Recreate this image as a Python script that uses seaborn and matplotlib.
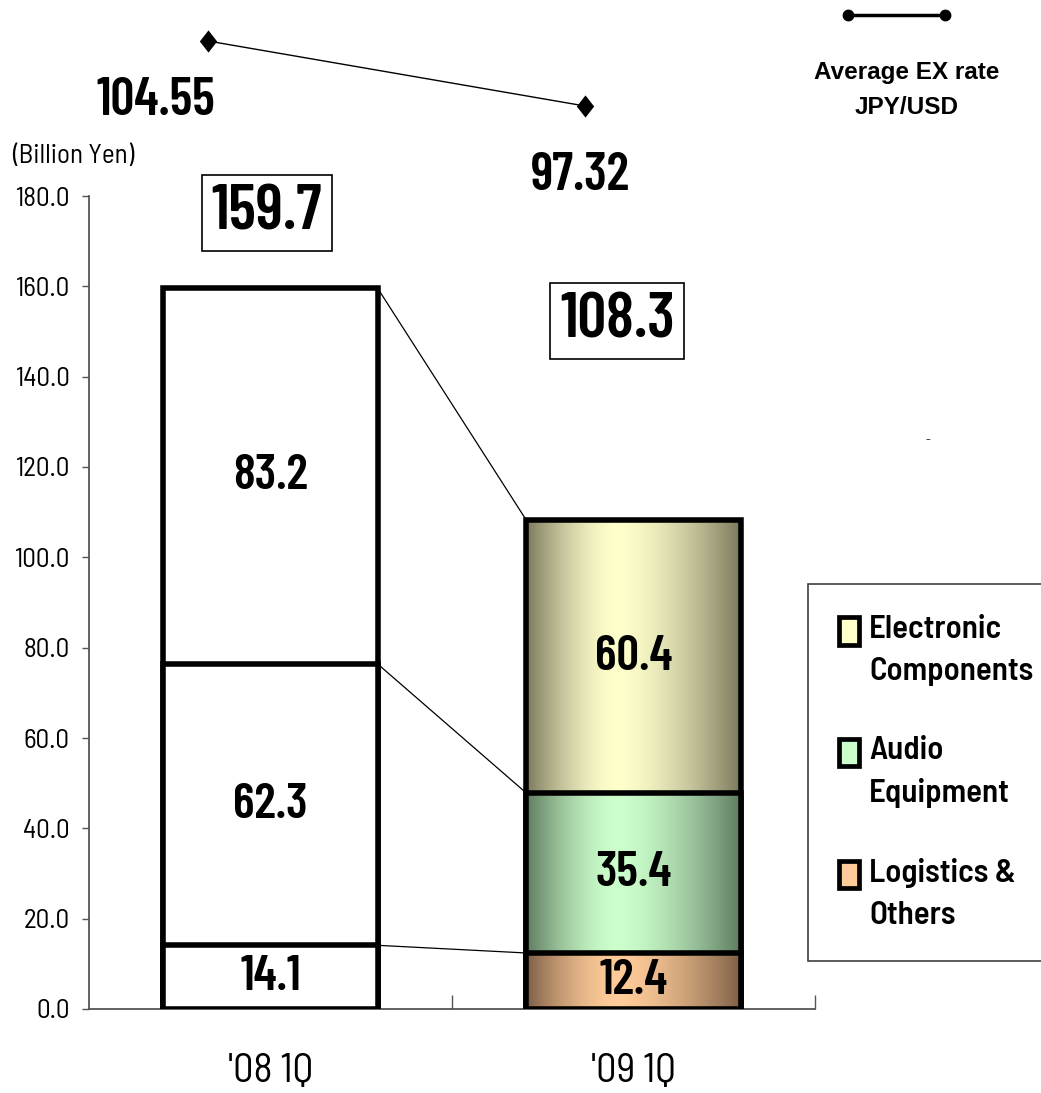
import numpy as np
import matplotlib
matplotlib.use("Agg")
import matplotlib.pyplot as plt
from matplotlib.patches import Patch, Rectangle
from matplotlib.path import Path
from matplotlib.lines import Line2D
from matplotlib.legend_handler import HandlerPatch
from matplotlib.font_manager import FontProperties
from matplotlib.colors import to_rgb
import seaborn as sns

# ---------------- data ----------------
quarters = ["'08 1Q", "'09 1Q"]
logistics_others = [14.1, 12.4]
audio_equipment = [62.3, 35.4]
electronic_components = [83.2, 60.4]
reported_totals = [159.7, 108.3]
fx_jpy_usd = [104.55, 97.32]
segment_labels = ["Logistics &\nOthers", "Audio\nEquipment", "Electronic\nComponents"]
y_ticks = [0, 20, 40, 60, 80, 100, 120, 140, 160, 180]

# ---------------- style ----------------
sns.set_style("ticks")
NUM = ["Barlow Condensed", "Liberation Sans", "DejaVu Sans"]
WORD = ["Barlow Semi Condensed", "Liberation Sans", "DejaVu Sans"]
WIDE = ["Liberation Sans", "DejaVu Sans"]
plt.rcParams["font.family"] = NUM
plt.rcParams["text.color"] = "black"

seg_light = ["#ffcc99", "#ccffcc", "#ffffcc"]
seg_dark = ["#7d5f46", "#5e7b60", "#7b795d"]
axis_grey = "#555555"

W, H = 1041, 1093
fig = plt.figure(figsize=(W / 100, H / 100), dpi=100)
ax = fig.add_axes([89 / W, 1 - 1009 / H, (815 - 89) / W, (1009 - 196) / H])


def shaded(light, dark, n=256, peak=0.42):
    """Horizontal cylinder-like shading: dark edges, light band near the middle."""
    t = np.linspace(0, 1, n)
    f = np.where(t < peak, t / peak, (1 - t) / (1 - peak))
    f = 1 - (1 - np.clip(f, 0, 1)) ** 1.6
    lo, hi = np.array(to_rgb(dark)), np.array(to_rgb(light))
    return (lo[None, :] + (hi - lo)[None, :] * f[:, None])[None, :, :]


layers = np.array([logistics_others, audio_equipment, electronic_components])
tops = np.cumsum(layers, axis=0)
bottoms = tops - layers
bar_w = 0.59

# stacked bars: draw cumulative heights from the tallest layer down
bar_patches = {}
for depth, k in enumerate(reversed(range(len(layers)))):
    n0 = len(ax.patches)
    sns.barplot(x=quarters, y=tops[k], color="white", saturation=1, width=bar_w,
                edgecolor="black", linewidth=4, errorbar=None, ax=ax,
                zorder=2.5 + 2 * depth)
    new = ax.patches[n0:]
    bar_patches[k] = new
    p = new[1]
    img = ax.imshow(shaded(seg_light[k], seg_dark[k]),
                    extent=(p.get_x(), p.get_x() + p.get_width(),
                            p.get_y(), p.get_y() + p.get_height()),
                    aspect="auto", interpolation="bilinear", zorder=2 + 2 * depth)
    img.set_clip_path(p)
    p.set_facecolor("none")

# segment values
for k in range(len(layers)):
    for j, p in enumerate(bar_patches[k]):
        cx = p.get_x() + p.get_width() / 2
        ax.text(cx, bottoms[k][j] + layers[k][j] / 2, f"{layers[k][j]:.1f}",
                ha="center", va="center", fontsize=36, fontweight="semibold", zorder=30)

# thin connectors between matching segment boundaries
for k in range(len(layers)):
    p0, p1 = bar_patches[k]
    ax.plot([p0.get_x() + p0.get_width(), p1.get_x()], [tops[k][0], tops[k][1]],
            color="black", lw=0.9, zorder=1.5)

# boxed totals
total_box_pos = [(-0.01, 176.2), (-0.045, 152.3)]
for j, p in enumerate(bar_patches[2]):
    cx = p.get_x() + p.get_width() / 2 + total_box_pos[j][0]
    ax.text(cx, total_box_pos[j][1], f"{reported_totals[j]:.1f}", ha="center", va="center",
            fontsize=46, fontweight="semibold", zorder=30,
            bbox=dict(boxstyle="square,pad=0.15", facecolor="white",
                      edgecolor="black", linewidth=1.2))

ax.set_xlim(-0.5, 1.5)
ax.set_ylim(0, 180)
ax.set_yticks(y_ticks)
ax.set_yticklabels([f"{v:.1f}" for v in y_ticks], family=WORD)
ax.set_xticks(range(len(quarters)))
ax.set_xticklabels(quarters, family=WORD)
ax.set_xticks([0.5, 1.5], minor=True)
ax.tick_params(axis="y", direction="out", length=5, width=1, color=axis_grey,
               labelcolor="black", labelsize=19.5, pad=9)
ax.tick_params(axis="x", which="major", length=0, labelsize=29, labelcolor="black", pad=32)
ax.tick_params(axis="x", which="minor", direction="in", length=10, width=1, color=axis_grey)
ax.set_xlabel("")
ax.set_ylabel("")
sns.despine(ax=ax)
for side in ("left", "bottom"):
    ax.spines[side].set_color(axis_grey)
    ax.spines[side].set_linewidth(1.3)

fig.text(12 / W, 1 - 156 / H, "(Billion Yen)", ha="left", va="center", fontsize=19.5,
         family=WORD)

# exchange-rate line above the bars
ax2 = fig.add_axes([89 / W, 1 - 196 / H, (815 - 89) / W, 196 / H])
diamond = Path([(0, 1), (0.78, 0), (0, -1), (-0.78, 0), (0, 1)],
               [Path.MOVETO, Path.LINETO, Path.LINETO, Path.LINETO, Path.CLOSEPOLY])
sns.lineplot(x=[0, 1], y=fx_jpy_usd, ax=ax2, color="black", linewidth=1,
             marker=diamond, markersize=16, markeredgewidth=0, markerfacecolor="black")
ax2.set_xlim(-0.3156, 1.610)
ax2.set_ylim(87.31, 109.11)
ax2.set_axis_off()
rate_label_offsets = [(-52, -60), (-5, -70)]
for i, r in enumerate(fx_jpy_usd):
    ax2.annotate(f"{r:.2f}", xy=(i, r), xytext=rate_label_offsets[i],
                 textcoords="offset pixels", ha="center", va="center",
                 fontsize=38, fontweight="semibold", annotation_clip=False)

# key for the exchange-rate line
fig.add_artist(Line2D([848 / W, 945 / W], [1 - 15 / H, 1 - 15 / H], transform=fig.transFigure,
                      color="black", lw=2.5, marker="o", markersize=7.5))
fig.text(907 / W, 1 - 73 / H, "Average EX rate", ha="center", va="center",
         fontsize=17.5, fontweight="bold", family=WIDE)
fig.text(907 / W, 1 - 108 / H, "JPY/USD", ha="center", va="center",
         fontsize=17.5, fontweight="bold", family=WIDE)
fig.text(928 / W, 1 - 440 / H, "-", ha="center", va="center", fontsize=11, color="#444444")


# segment legend: square key beside the first line of each label
def first_line_square(legend, orig_handle, xdescent, ydescent, width, height, fontsize):
    top = 1.36 * fontsize
    hgt = 0.84 * fontsize
    return Rectangle((-xdescent, top - hgt), width, hgt)


handles = [Patch(facecolor=seg_light[k], edgecolor="black", linewidth=3.4) for k in (2, 1, 0)]
labels = [segment_labels[k] for k in (2, 1, 0)]
leg = fig.legend(handles, labels, loc="upper left",
                 bbox_to_anchor=(808 / W, 0, 320 / W, 1 - 584 / H), mode="expand",
                 borderaxespad=0, borderpad=0.95, labelspacing=1.52, handletextpad=0.3,
                 handlelength=0.6, fancybox=False, framealpha=1,
                 prop=FontProperties(family=WORD, weight="semibold", size=23.7),
                 handler_map={Patch: HandlerPatch(patch_func=first_line_square)})
leg.get_frame().set_edgecolor("#404040")
leg.get_frame().set_linewidth(1.2)
for t in leg.get_texts():
    t.set_linespacing(1.55)

fig.savefig("out.png", dpi=100)
